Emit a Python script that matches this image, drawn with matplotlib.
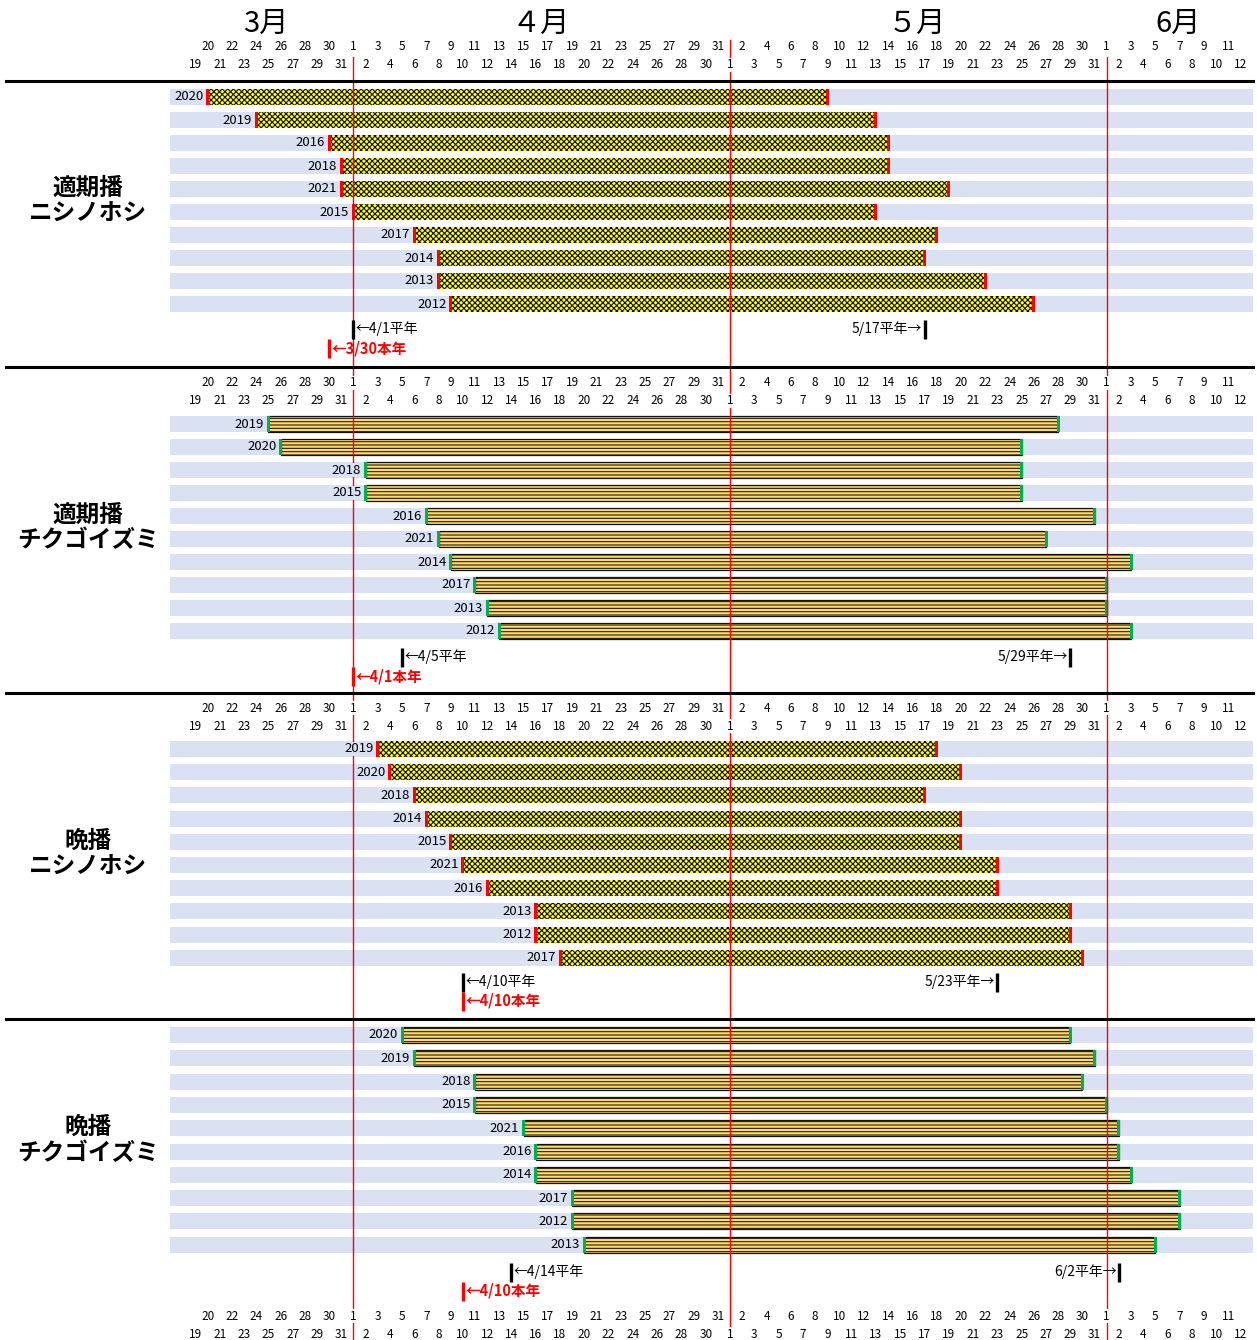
"""
Wheat heading / maturity period chart (4 groups, one bar per year).
"""

import matplotlib
matplotlib.use('Agg')
import matplotlib.pyplot as plt
from matplotlib.patches import Rectangle

plt.rcParams['font.family'] = ['Noto Sans CJK JP', 'DejaVu Sans']
plt.rcParams['hatch.linewidth'] = 0.75

# day columns of the sheet (the source sheet has an "Apr 31" column)
days_mar = list(range(19, 32))
days_apr = list(range(1, 32))
days_may = list(range(1, 32))
days_jun = list(range(1, 13))
day_labels = days_mar + days_apr + days_may + days_jun
month_offset = {3: -19, 4: 12, 5: 43, 6: 74}

month_names = ['3月', '４月', '５月', '6月']
month_first = ['4/1', '5/1', '6/1']

panel_titles = ['適期播\nニシノホシ', '適期播\nチクゴイズミ', '晩播\nニシノホシ', '晩播\nチクゴイズミ']
panel_kind = ['nishi', 'chiku', 'nishi', 'chiku']

# 適期播 ニシノホシ
p1_years = [2020, 2019, 2016, 2018, 2021, 2015, 2017, 2014, 2013, 2012]
p1_start = ['3/20', '3/24', '3/30', '3/31', '3/31', '4/1', '4/6', '4/8', '4/8', '4/9']
p1_end = ['5/9', '5/13', '5/14', '5/14', '5/19', '5/13', '5/18', '5/17', '5/22', '5/26']
p1_marks = ['4/1', '3/30', '5/17']  # avg start, this year start, avg end

# 適期播 チクゴイズミ
p2_years = [2019, 2020, 2018, 2015, 2016, 2021, 2014, 2017, 2013, 2012]
p2_start = ['3/25', '3/26', '4/2', '4/2', '4/7', '4/8', '4/9', '4/11', '4/12', '4/13']
p2_end = ['5/28', '5/25', '5/25', '5/25', '5/31', '5/27', '6/3', '6/1', '6/1', '6/3']
p2_marks = ['4/5', '4/1', '5/29']

# 晩播 ニシノホシ
p3_years = [2019, 2020, 2018, 2014, 2015, 2021, 2016, 2013, 2012, 2017]
p3_start = ['4/3', '4/4', '4/6', '4/7', '4/9', '4/10', '4/12', '4/16', '4/16', '4/18']
p3_end = ['5/18', '5/20', '5/17', '5/20', '5/20', '5/23', '5/23', '5/29', '5/29', '5/30']
p3_marks = ['4/10', '4/10', '5/23']

# 晩播 チクゴイズミ
p4_years = [2020, 2019, 2018, 2015, 2021, 2016, 2014, 2017, 2012, 2013]
p4_start = ['4/5', '4/6', '4/11', '4/11', '4/15', '4/16', '4/16', '4/19', '4/19', '4/20']
p4_end = ['5/29', '5/31', '5/30', '6/1', '6/2', '6/2', '6/3', '6/7', '6/7', '6/5']
p4_marks = ['4/14', '4/10', '6/2']

panels = [
    (p1_years, p1_start, p1_end, p1_marks),
    (p2_years, p2_start, p2_end, p2_marks),
    (p3_years, p3_start, p3_end, p3_marks),
    (p4_years, p4_start, p4_end, p4_marks),
]

# layout (pixels)
W, H = 1257, 1340
X0, DX = 195.5, 12.15          # pixel of the first column, pixels per column
row_first = [97, 424, 749, 1035]
row_step = [23, 23, 23.2, 23.3]
avg_y = [329, 657, 982, 1272]
this_y = [348, 676, 1001, 1291]
header_y = [(47, 65), (383, 401), (708, 726), (1316, 1334)]
sep_y = [81, 367, 693, 1019]
month_label_cols = [5.8, 28.4, 59.4, 80.9]

BAND = '#D9E1F2'
NISHI = '#FFFF00'
CHIKU = '#FFD966'
GREEN = '#00B050'


def col(md):
    m, d = md.split('/')
    return month_offset[int(m)] + int(d)


def px2col(px):
    return (px - X0) / DX


fig = plt.figure(figsize=(W / 100, H / 100), dpi=100)
ax = fig.add_axes([0, 0, 1, 1])
ax.set_xlim(px2col(0), px2col(W))
ax.set_ylim(H, 0)
ax.axis('off')

# month names
for name, c in zip(month_names, month_label_cols):
    ax.text(c, 24, name, fontsize=21, ha='center', va='center')

# day headers, two staggered rows
for y_top, y_bot in header_y:
    for i, d in enumerate(day_labels):
        y = y_top if i % 2 == 1 else y_bot
        ax.text(i, y, str(d), fontsize=8.5, ha='center', va='center', zorder=5,
                bbox=dict(facecolor='white', edgecolor='none', pad=0.2))

# panel separators
for y in sep_y:
    ax.plot([px2col(6), px2col(1253)], [y, y], color='black', lw=2.2, zorder=6)

# month boundary lines
for md in month_first:
    c = col(md)
    y0 = 40 if c % 2 == 0 else 57
    ax.plot([c, c], [y0, H], color='red', lw=1.0, zorder=3)

mw = 3 / DX      # marker width in columns
bh = 16          # bar height px
for p, (years, starts, ends, marks) in enumerate(panels):
    kind = panel_kind[p]
    ys = [row_first[p] + k * row_step[p] for k in range(len(years))]

    for yr, s_md, e_md, y in zip(years, starts, ends, ys):
        s, e = col(s_md), col(e_md)
        ax.add_patch(Rectangle((px2col(170), y - bh / 2), px2col(1253) - px2col(170), bh,
                               facecolor=BAND, edgecolor='none', zorder=1))
        if kind == 'nishi':
            ax.add_patch(Rectangle((s, y - bh / 2), e - s, bh, facecolor=NISHI,
                                   edgecolor='black', hatch='xxxxxx', lw=0, zorder=2))
            mcol = 'red'
        else:
            ax.add_patch(Rectangle((s, y - bh / 2), e - s, bh, facecolor=CHIKU,
                                   edgecolor='#111111', hatch='-----', lw=0.9, zorder=2))
            mcol = GREEN
        for c in (s, e):
            ax.add_patch(Rectangle((c - mw / 2, y - bh / 2), mw, bh,
                                   facecolor=mcol, edgecolor='none', zorder=2.5))
        ax.text(s - 0.35, y, str(yr), fontsize=9.5, ha='right', va='center', zorder=4,
                bbox=dict(facecolor=BAND, edgecolor='none', pad=0.3))

    # group title
    ax.text(px2col(88), sum(ys) / len(ys), panel_titles[p], fontsize=17, fontweight='bold',
            ha='center', va='center', linespacing=1.1)

    # average / this-year markers
    avg_s, this_s, avg_e = marks
    for c, y, color in ((col(avg_s), avg_y[p], 'black'), (col(this_s), this_y[p], 'red'),
                        (col(avg_e), avg_y[p], 'black')):
        ax.plot([c, c], [y - 9.5, y + 9.5], color=color, lw=2.4,
                solid_capstyle='butt', zorder=4)
    ax.text(col(avg_s) + 0.2, avg_y[p], f'←{avg_s}平年', fontsize=10,
            ha='left', va='center')
    ax.text(col(this_s) + 0.2, this_y[p], f'←{this_s}本年', fontsize=10.5,
            fontweight='bold', color='red', ha='left', va='center')
    ax.text(col(avg_e) - 0.2, avg_y[p], f'{avg_e}平年→', fontsize=10,
            ha='right', va='center')

fig.savefig('out.png', dpi=100)
